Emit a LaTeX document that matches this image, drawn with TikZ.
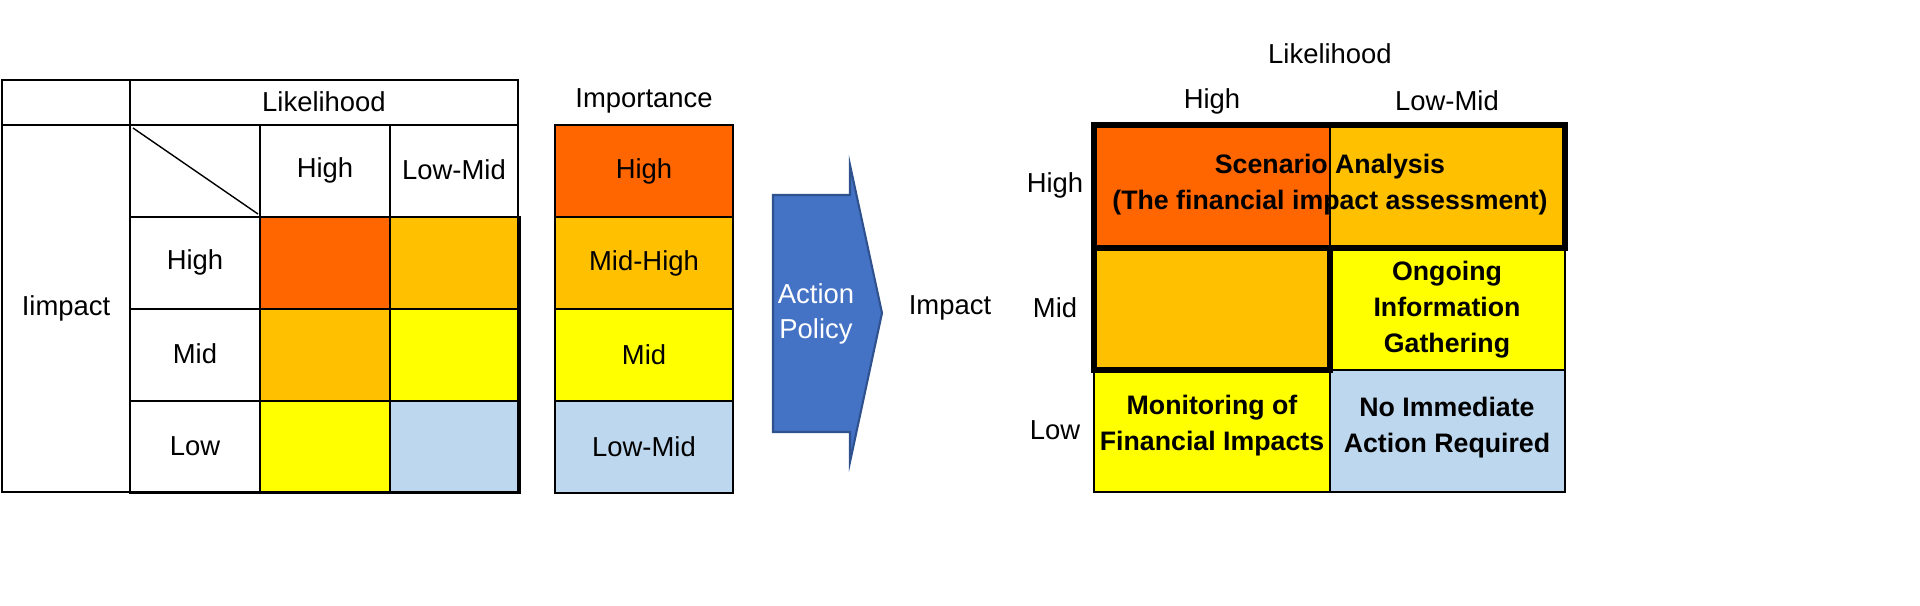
\documentclass[tikz,border=0pt]{standalone}
\usepackage{fontspec}
\setmainfont{Liberation Sans}
\usetikzlibrary{shapes.arrows}
\definecolor{cR}{HTML}{FF6600}
\definecolor{cO}{HTML}{FFC000}
\definecolor{cY}{HTML}{FFFF00}
\definecolor{cB}{HTML}{BDD7EE}
\definecolor{cA}{HTML}{4472C4}
\definecolor{cAd}{HTML}{2F528F}
\begin{document}
\begin{tikzpicture}[x=0.01cm,y=-0.01cm,font=\fontsize{7.8}{10}\selectfont,
 cell/.style={draw=black,line width=0.4pt},
 lbl/.style={inner sep=0pt,align=center},
 bl/.style={inner sep=0pt,align=center,font=\fontsize{7.6}{10.2}\selectfont\bfseries}]
\useasboundingbox (0,0) rectangle (1920,606);
% left table
\foreach \x/\y/\c in {260/217/cR,390/217/cO,260/309/cO,390/309/cY,260/401/cY,390/401/cB}
  \filldraw[fill=\c,cell] (\x,\y) rectangle ++(130,92);
\draw[cell] (2,80) rectangle (130,125);
\draw[cell] (130,80) rectangle (518,125);
\draw[cell] (2,125) rectangle (130,492);
\draw[cell] (130,125) rectangle (260,217);
\draw[cell] (260,125) rectangle (390,217);
\draw[cell] (390,125) rectangle (518,217);
\foreach \y in {217,309,401} \draw[cell] (130,\y) rectangle (260,\y+92);
\draw[cell] (390,217) -- (518,217) -- (518,492) -- (130,492);
\draw[cell] (133,128) -- (258,214);
\node[lbl] (lk) at (324,102) {Likelihood};
\node[lbl] (im) at (66,308) {Iimpact};
\node[lbl] (h1) at (325,170) {High};
\node[lbl] (l1) at (454,170) {Low-Mid};
\node[lbl] (rh) at (195,262) {High};
\node[lbl] (rm) at (195,354) {Mid};
\node[lbl] (rl) at (195,446) {Low};
% importance
\node[lbl] (imp) at (644,101) {Importance};
\foreach \y/\c/\t in {125/cR/High,217/cO/Mid-High,309/cY/Mid,401/cB/Low-Mid}{
  \filldraw[fill=\c,cell] (555,\y) rectangle (733,\y+92);
  \node[lbl] at (644,\y+46) {\t};}
% arrow
\filldraw[fill=cA,draw=cAd,line width=0.6pt] (773,195) -- (850,195) -- (850,165) -- (882,313) -- (850,462) -- (850,432) -- (773,432) -- cycle;
\node[lbl,text=white] (ap) at (816,314) {Action\\Policy};
% right matrix
\node[lbl] (imr) at (950,308) {Impact};
\node[lbl] (lkr) at (1330,54) {Likelihood};
\node[lbl] at (1212,101) {High};
\node[lbl] at (1447,101) {Low-Mid};
\node[lbl] at (1055,185) {High};
\node[lbl] at (1055,308) {Mid};
\node[lbl] at (1055,430) {Low};
\fill[cR] (1094,125) rectangle (1330,248);
\fill[cO] (1330,125) rectangle (1565,248);
\fill[cO] (1094,248) rectangle (1330,370);
\fill[cY] (1330,248) rectangle (1565,370);
\fill[cY] (1094,370) rectangle (1330,492);
\fill[cB] (1330,370) rectangle (1565,492);
\draw[cell] (1094,370) rectangle (1565,492);
\draw[cell] (1330,370) -- (1330,492);
\draw[cell] (1565,248) -- (1565,370);
\draw[cell] (1330,125) -- (1330,248);
\draw[line width=1.7pt] (1094,125) rectangle (1565,248);
\draw[line width=1.7pt] (1094,248) rectangle (1330,370);
\node[bl] (sa) at (1330,185) {Scenario Analysis\\(The financial impact assessment)};
\node[bl] (og) at (1447,310) {Ongoing\\Information\\Gathering};
\node[bl] (mo) at (1212,426) {Monitoring of\\Financial Impacts};
\node[bl] (no) at (1447,428) {No Immediate\\Action Required};
\end{tikzpicture}
\end{document}
